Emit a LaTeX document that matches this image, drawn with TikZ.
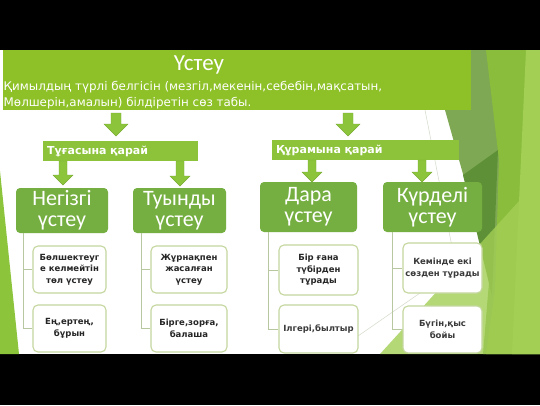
\documentclass[tikz,border=0pt]{standalone}
\usepackage{fontspec}
\setmainfont{DejaVu Sans}
\newfontfamily\headfont{Carlito}
\usetikzlibrary{calc}
\definecolor{bannerg}{HTML}{8EC127}
\definecolor{barg}{HTML}{8CC33B}
\definecolor{headg}{HTML}{76AF41}
\definecolor{arrg}{HTML}{8CC43C}
\definecolor{arrd}{HTML}{7AAD35}
\definecolor{childb}{HTML}{C4D79E}
\definecolor{treel}{HTML}{B7C8A0}
\definecolor{txtc}{HTML}{262626}
\definecolor{txtr}{HTML}{3A3A3A}
\definecolor{bgA}{HTML}{7FA854}
\definecolor{bgB}{HTML}{8ABD3C}
\definecolor{bgC}{HTML}{5E9137}
\definecolor{bgD}{HTML}{A3CF55}
\definecolor{bgL}{HTML}{8CC43C}
\definecolor{faint}{HTML}{D3DBCB}
\newcommand{\dnarrow}[5]{% x, ytop, ytip, shaft half, head half
  \filldraw[arrowst] ({#1-#4},#2) -- ({#1+#4},#2) -- ({#1+#4},{#3-#5}) -- ({#1+#5},{#3-#5})
    -- (#1,#3) -- ({#1-#5},{#3-#5}) -- ({#1-#4},{#3-#5}) -- cycle;}
\begin{document}
\begin{tikzpicture}[x=1pt,y=-1pt,
  arrowst/.style={fill=arrg, draw=arrd, line width=0.4pt},
  bannerbox/.style={fill=bannerg, inner sep=0pt, minimum width=468pt, minimum height=60pt},
  barbox/.style={fill=barg, minimum height=20pt, inner ysep=0pt, inner xsep=4pt, align=left,
    text=white, font=\bfseries\fontsize{11}{13}\selectfont},
  headbox/.style={fill=headg, rounded corners=4pt, text=white, align=center, inner sep=0pt,
    font=\headfont\fontsize{22}{21}\selectfont},
  childbox/.style={fill=white, draw=childb, line width=1.1pt, rounded corners=5pt, align=center,
    inner sep=0pt, text=txtc, font=\bfseries\fontsize{8.5}{11.5}\selectfont},
  childreg/.style={childbox, text=txtr},
  tree/.style={draw=treel, line width=0.9pt}]
\useasboundingbox (0,0) rectangle (540,405);
% background
\fill[black] (0,0) rectangle (540,405);
\fill[white] (0,50) rectangle (540,354);
\fill[bgL] (0,171) -- (19,354) -- (0,354) -- cycle;
\fill[bgA] (445,110) -- (440,50) -- (540,50) -- (540,354) -- (483,354) -- (490,270) -- cycle;
\fill[bgB] (486,50) -- (540,50) -- (540,354) -- (486,354) -- (495,290) -- (499,160) -- cycle;
\fill[bgC] (463,175) -- (498,150) -- (492,296) -- cycle;
\fill[bgD] (526,50) -- (540,50) -- (540,354) -- (512,354) -- cycle;
\fill[bgD, opacity=0.8] (380,354) -- (540,178) -- (540,354) -- cycle;
\draw[faint, line width=0.5pt] (425,110) -- (455,262);
\draw[faint, line width=0.5pt] (358,336) -- (482,250);
% banner
\node[bannerbox] (top) at (237,80) {};
\node[font=\headfont\fontsize{23}{25}\selectfont, text=white, inner sep=0pt] (title) at (199,65) {Үстеу};
\node[anchor=west, align=left, text=white, inner sep=0pt, font=\fontsize{11.9}{16.5}\selectfont] (desc) at (3.5,95)
  {Қимылдың түрлі белгісін (мезгіл,мекенін,себебін,мақсатын,\\Мөлшерін,амалын) білдіретін сөз табы.};
% bars
\node[barbox, text width=147pt] (tbar) at (120.5,151) {Тұғасына қарай};
\node[barbox, text width=179pt] (kbar) at (365.5,150) {Құрамына қарай};
% headers
\node[headbox, minimum width=92pt, minimum height=45pt] (h1) at (62,210.5) {Негізгі\\үстеу};
\node[headbox, minimum width=93pt, minimum height=45pt] (h2) at (179.5,210.5) {Туынды\\үстеу};
\node[headbox, minimum width=97pt, minimum height=50pt] (h3) at (308.5,207) {Дара\\үстеу};
\node[headbox, minimum width=99pt, minimum height=50pt] (h4) at (432.5,207) {Күрделі\\үстеу};
% children
\node[childbox, minimum width=73pt, minimum height=47pt] (c1) at (69.5,269.5) {Бөлшектеуг\\е келмейтін\\төл үстеу};
\node[childbox, minimum width=73pt, minimum height=47pt] (c2) at (69.5,328.5) {Ең,ертең,\\бұрын};
\node[childbox, minimum width=76pt, minimum height=47pt] (c3) at (189,269.5) {Жұрнақпен\\жасалған\\үстеу};
\node[childbox, minimum width=76pt, minimum height=47pt] (c4) at (189,328.5) {Бірге,зорға,\\балаша};
\node[childbox, minimum width=79pt, minimum height=50pt] (c5) at (318.5,270) {Бір ғана\\түбірден\\тұрады};
\node[childreg, minimum width=79pt, minimum height=48pt] (c6) at (318.5,329) {Ілгері,былтыр};
\node[childreg, minimum width=79pt, minimum height=50pt] (c7) at (442.5,268) {Кемінде екі\\сөзден тұрады};
\node[childreg, minimum width=79pt, minimum height=47pt] (c8) at (442.5,329.5) {Бүгін,қыс\\бойы};
% tree lines
\draw[tree] ([xshift=8pt]h1.south west) |- (c1.west);
\draw[tree] ([xshift=8pt]h1.south west) |- (c2.west);
\draw[tree] ([xshift=9pt]h2.south west) |- (c3.west);
\draw[tree] ([xshift=9pt]h2.south west) |- (c4.west);
\draw[tree] ([xshift=9pt]h3.south west) |- (c5.west);
\draw[tree] ([xshift=9pt]h3.south west) |- (c6.west);
\draw[tree] ([xshift=10pt]h4.south west) |- (c7.west);
\draw[tree] ([xshift=10pt]h4.south west) |- (c8.west);
% arrows
\dnarrow{116}{113}{136}{5}{12}
\dnarrow{348}{113}{136}{5}{12}
\dnarrow{63}{161}{185}{4}{10}
\dnarrow{180}{161}{186}{4}{10}
\dnarrow{312}{160}{182}{4}{10}
\dnarrow{422}{160}{182}{4}{10}
\end{tikzpicture}
\end{document}
